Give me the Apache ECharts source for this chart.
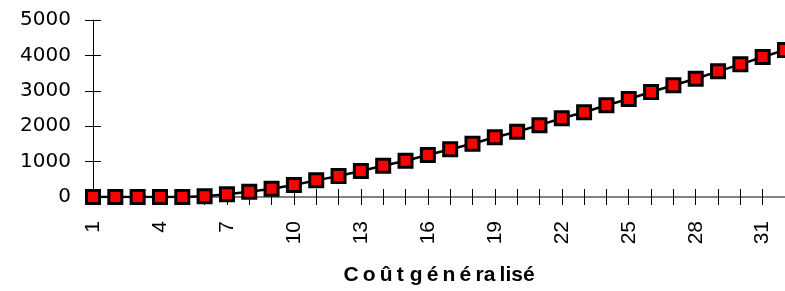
<!DOCTYPE html>
<html>
<head>
<meta charset="utf-8">
<script src="https://cdn.jsdelivr.net/npm/echarts@6/dist/echarts.min.js"></script>
<style>
  html, body { margin: 0; padding: 0; background: #fff; }
  #chart { width: 785px; height: 291px; }
</style>
</head>
<body>
<div id="chart"></div>
<script>
// Coût généralisé

var categories = [];
for (var i = 1; i <= 32; i++) categories.push(String(i));

var values = [0, 0, 0, 0, 0, 20, 75, 150, 235, 340,
              470, 593, 735, 885, 1025, 1186, 1347, 1506, 1686, 1845,
              2030, 2223, 2393, 2590, 2768, 2966, 3155, 3342, 3550, 3748,
              3955, 4153];

var yTicks = [0, 1000, 2000, 3000, 4000, 5000];

// thin spaces mimic the letter spacing of the original title
var xTitle = 'C\u2009o\u2009û\u2009t g\u2009é\u2009n\u2009é\u2009ra\u2009lisé';

document.addEventListener('DOMContentLoaded', () => {
    var chart = echarts.init(document.querySelector('#chart'));
    chart.setOption({
        animation: false,
        grid: { left: 93, top: 20, bottom: 94, right: -3 },
        xAxis: [
            {
                type: 'category',
                data: categories,
                boundaryGap: false,
                name: xTitle,
                nameLocation: 'middle',
                nameGap: 68,
                nameTextStyle: {
                    fontFamily: 'Liberation Sans',
                    fontWeight: 'bold',
                    fontSize: 21,
                    color: '#000'
                },
                axisLine: { lineStyle: { color: '#808080', width: 2 } },
                axisTick: { show: true, interval: 0, length: 8, lineStyle: { color: '#000' } },
                axisLabel: {
                    interval: 2,
                    rotate: 90,
                    margin: 24,
                    fontFamily: 'Liberation Sans',
                    fontSize: 21,
                    color: '#000'
                }
            },
            {
                type: 'category',
                data: categories,
                boundaryGap: false,
                position: 'bottom',
                axisLine: { show: false },
                axisTick: { show: true, inside: true, interval: 0, length: 8, lineStyle: { color: '#000' } },
                axisLabel: { show: false }
            }
        ],
        yAxis: [
            {
                type: 'value',
                min: yTicks[0],
                max: yTicks[yTicks.length - 1],
                interval: 1000,
                splitLine: { show: false },
                axisLine: { show: true, lineStyle: { color: '#000' } },
                axisTick: { show: true, length: 8, lineStyle: { color: '#000' } },
                axisLabel: {
                    margin: 22,
                    fontFamily: 'DejaVu Sans',
                    fontSize: 20,
                    color: '#000',
                    formatter: function (v) { return String(v); }
                }
            },
            {
                type: 'value',
                position: 'left',
                min: yTicks[0],
                max: yTicks[yTicks.length - 1],
                interval: 1000,
                splitLine: { show: false },
                axisLine: { show: false },
                axisTick: { show: true, inside: true, length: 8, lineStyle: { color: '#000' } },
                axisLabel: { show: false }
            }
        ],
        series: [
            {
                type: 'line',
                data: values,
                xAxisIndex: 0,
                yAxisIndex: 0,
                symbol: 'rect',
                symbolSize: 13,
                showAllSymbol: true,
                lineStyle: { color: '#000', width: 2.5 },
                itemStyle: { color: '#ff0000', borderColor: '#000', borderWidth: 3 }
            }
        ]
    });
});
</script>
</body>
</html>
